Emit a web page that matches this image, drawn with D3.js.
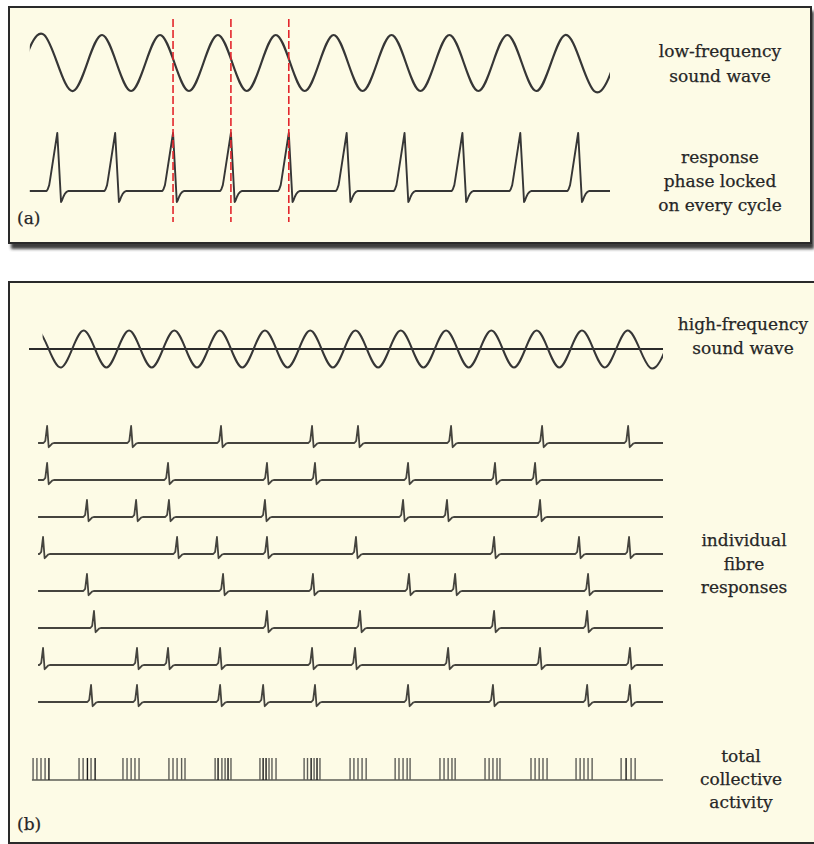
<!DOCTYPE html>
<html>
<head>
<meta charset="utf-8">
<script src="https://cdn.jsdelivr.net/npm/d3@7"></script>
<style>
  body { margin: 0; background: #ffffff; }
  svg { display: block; }
  text { font-family: "DejaVu Serif", "Liberation Serif", serif; fill: #262626; stroke: #262626; stroke-width: 0.25; }
</style>
</head>
<body>
<script>
// ---- Panel (a): low-frequency tone, one spike per cycle (time in ms) ----
// Wave turning points: [time, relative pressure]; the trace is clipped to lowSpan
const lowWave = [[-1,-1],[1,1],[3,-1],[5,1],[7,-1],[9,1],[11,-1],[13,1],[15,-1],[17,1],[19,-1],
  [21,1],[23,-1],[25,1],[27,-1],[29,1],[31,-1],[33,1],[35,-1],[37,1],[39,-1],[41,1]];
const lowSpan = [0, 40.1];
const lowSpikes = [1.9, 5.9, 9.9, 13.9, 17.9, 21.9, 25.9, 29.9, 33.9, 37.9];
const lockMarkers = [9.9, 13.9, 17.9];

// ---- Panel (b): high-frequency tone, volley of eight fibres ----
const highWave = [[-0.58,-1],[0.42,1],[1.42,-1],[2.42,1],[3.42,-1],[4.42,1],[5.42,-1],[6.42,1],[7.42,-1],
  [8.42,1],[9.42,-1],[10.42,1],[11.42,-1],[12.42,1],[13.42,-1],[14.42,1],[15.42,-1],[16.42,1],
  [17.42,-1],[18.42,1],[19.42,-1],[20.42,1],[21.42,-1],[22.42,1],[23.42,-1],[24.42,1],
  [25.42,-1],[26.42,1],[27.42,-1],[28.42,1]];
const highSpan = [0.6, 28];

const fibreSpikes = [
  [0.80, 4.51, 8.48, 12.50, 14.53, 18.64, 22.66, 26.46],
  [0.80, 6.14, 10.51, 12.63, 16.74, 20.58, 22.35],
  [2.56, 4.73, 6.18, 10.42, 16.52, 18.46, 22.57],
  [0.62, 6.54, 8.30, 10.51, 14.44, 20.54, 24.29, 26.50],
  [2.56, 8.57, 12.54, 16.78, 18.82, 24.69],
  [2.87, 10.51, 14.62, 20.54, 24.65],
  [0.62, 4.77, 6.14, 8.44, 12.50, 14.40, 18.51, 22.57, 26.54],
  [2.74, 4.77, 8.44, 10.34, 12.63, 16.74, 20.49, 24.65, 26.54]
];

// Summed activity: one tick per spike in the whole population
const totalTicks = [
  0.18, 0.35, 0.53, 0.71, 0.88,
  2.21, 2.39, 2.58, 2.74, 2.92,
  4.15, 4.33, 4.51, 4.68, 4.86,
  6.18, 6.36, 6.54, 6.74, 6.89,
  8.22, 8.35, 8.52, 8.66, 8.79, 8.92,
  10.20, 10.34, 10.47, 10.60, 10.73, 10.91,
  12.15, 12.30, 12.46, 12.59, 12.72, 12.85,
  14.18, 14.35, 14.53, 14.71, 14.89,
  16.17, 16.34, 16.52, 16.70, 16.83,
  18.15, 18.33, 18.51, 18.68, 18.82,
  20.14, 20.32, 20.49, 20.67, 20.80,
  22.17, 22.35, 22.53, 22.70, 22.88,
  24.16, 24.34, 24.51, 24.69, 24.87,
  26.15, 26.37, 26.59, 26.77
];
const darkTicks = [0.88, 2.58, 2.92, 8.35, 8.79, 10.34, 10.47, 12.46, 12.72, 26.37];

const labelsA = [
  { lines: ["low-frequency", "sound wave"], y: [57, 82] },
  { lines: ["response", "phase locked", "on every cycle"], y: [163, 187, 211] }
];
const labelsB = [
  { lines: ["high-frequency", "sound wave"], y: [330, 354] },
  { lines: ["individual", "fibre", "responses"], y: [546, 570, 593] },
  { lines: ["total", "collective", "activity"], y: [762, 785, 808] }
];

// Action-potential outlines: [ms offset from peak, relative voltage]
const apShapeA = [[-0.74,0],[-0.66,0.03],[-0.56,0.1],[-0.5,0.19],[0,1],[0.26,-0.19],
  [0.33,-0.16],[0.42,-0.1],[0.52,-0.05],[0.64,-0.015],[0.78,0]];
const apShapeB = [[-0.16,0],[-0.08,0.12],[0,1],[0.07,-0.25],[0.14,-0.15],[0.22,-0.04],[0.3,0]];

const W = 814, H = 844;
const svg = d3.select("body").append("svg").attr("width", W).attr("height", H);

const defs = svg.append("defs");
defs.append("filter").attr("id", "shadow").attr("x", "-5%").attr("y", "-5%")
  .attr("width", "110%").attr("height", "115%")
  .append("feGaussianBlur").attr("stdDeviation", 1.4);

const cream = "#fdfbe6";
const ink = "#363636";

// Panel frames
svg.append("rect").attr("x", 11).attr("y", 11).attr("width", 803).attr("height", 238)
  .attr("fill", "#3c3c3c").attr("filter", "url(#shadow)");
svg.append("rect").attr("x", 9).attr("y", 7).attr("width", 802).attr("height", 236)
  .attr("fill", cream).attr("stroke", "#2a2a2a").attr("stroke-width", 2);
svg.append("rect").attr("x", 9).attr("y", 282).attr("width", 830).attr("height", 561)
  .attr("fill", cream).attr("stroke", "#2a2a2a").attr("stroke-width", 2);

// Builds a spike-train trace: flat baseline with a spike outline at each time
function trace(spikes, shape, t0, t1) {
  const pts = [[t0, 0]];
  spikes.forEach(s => shape.forEach(([dt, v]) => pts.push([s + dt, v])));
  pts.push([t1, 0]);
  return pts.filter(p => p[0] >= t0 && p[0] <= t1).sort((a, b) => a[0] - b[0]);
}

function clipTo(id, x0, x1) {
  defs.append("clipPath").attr("id", id).append("rect")
    .attr("x", x0).attr("y", 0).attr("width", x1 - x0).attr("height", H);
  return `url(#${id})`;
}

// ---------- Panel (a) ----------
const xA = d3.scaleLinear().domain(lowSpan).range([29.8, 610]);
const yWaveA = d3.scaleLinear().domain([-1, 1]).range([91, 35]);
const ySpikeA = d3.scaleLinear().domain([-0.19, 1]).range([202, 133]);

const gA = svg.append("g");
gA.append("path").datum(lowWave)
  .attr("clip-path", clipTo("clipLow", xA(lowSpan[0]), xA(lowSpan[1])))
  .attr("d", d3.line().x(d => xA(d[0])).y(d => yWaveA(d[1])).curve(d3.curveNatural))
  .attr("fill", "none").attr("stroke", ink).attr("stroke-width", 2.2);

gA.append("path").datum(trace(lowSpikes, apShapeA, 0, 40.1))
  .attr("d", d3.line().x(d => xA(d[0])).y(d => ySpikeA(d[1])))
  .attr("fill", "none").attr("stroke", ink).attr("stroke-width", 1.9)
  .attr("stroke-linejoin", "round");

gA.selectAll("line.lock").data(lockMarkers).join("line")
  .attr("class", "lock")
  .attr("x1", d => xA(d)).attr("x2", d => xA(d))
  .attr("y1", 19).attr("y2", 222)
  .attr("stroke", "#e3262c").attr("stroke-width", 1.6)
  .attr("stroke-dasharray", "8,3");

// ---------- Panel (b) ----------
const xB = d3.scaleLinear().domain([0, 28]).range([29, 663]);
const yWaveB = d3.scaleLinear().domain([-1, 1]).range([367.5, 330.5]);
const rowY = d3.scalePoint().domain(d3.range(fibreSpikes.length)).range([443, 702]);
const ampB = d3.scaleLinear().domain([-1, 1]).range([17, -17]);
const yTotal = d3.scaleLinear().domain([0, 1]).range([780, 758]);

const gB = svg.append("g");
gB.append("line").attr("x1", xB(0)).attr("x2", xB(28))
  .attr("y1", yWaveB(0)).attr("y2", yWaveB(0))
  .attr("stroke", "#2a2a2a").attr("stroke-width", 1.9);
gB.append("path").datum(highWave)
  .attr("clip-path", clipTo("clipHigh", xB(highSpan[0]), xB(highSpan[1])))
  .attr("d", d3.line().x(d => xB(d[0])).y(d => yWaveB(d[1])).curve(d3.curveNatural))
  .attr("fill", "none").attr("stroke", ink).attr("stroke-width", 2);

gB.selectAll("path.fibre").data(fibreSpikes).join("path")
  .attr("class", "fibre")
  .attr("d", (spikes, i) => d3.line()
      .x(d => xB(d[0])).y(d => rowY(i) + ampB(d[1]))(trace(spikes, apShapeB, 0.4, 28)))
  .attr("fill", "none").attr("stroke", "#45443e").attr("stroke-width", 1.8)
  .attr("stroke-linejoin", "round");

gB.append("line").attr("x1", xB(0.13)).attr("x2", xB(28))
  .attr("y1", yTotal(0)).attr("y2", yTotal(0))
  .attr("stroke", "#85857a").attr("stroke-width", 2.2);
gB.selectAll("line.tick").data(totalTicks).join("line")
  .attr("class", "tick")
  .attr("x1", d => xB(d)).attr("x2", d => xB(d))
  .attr("y1", yTotal(0)).attr("y2", yTotal(1))
  .attr("stroke", d => darkTicks.includes(d) ? "#1a1a1a" : "#5e5e58")
  .attr("stroke-width", 1.4);

// ---------- Labels ----------
function labelBlock(g, block, cx) {
  block.lines.forEach((s, i) => {
    g.append("text").attr("x", cx).attr("y", block.y[i])
      .attr("text-anchor", "middle").attr("font-size", 17).text(s);
  });
}
labelsA.forEach(b => labelBlock(gA, b, 720));
labelBlock(gB, labelsB[0], 743);
labelBlock(gB, labelsB[1], 744);
labelBlock(gB, labelsB[2], 741);

gA.append("text").attr("x", 17).attr("y", 224).attr("font-size", 17).text("(a)");
gB.append("text").attr("x", 17).attr("y", 830).attr("font-size", 17).text("(b)");
</script>
</body>
</html>
